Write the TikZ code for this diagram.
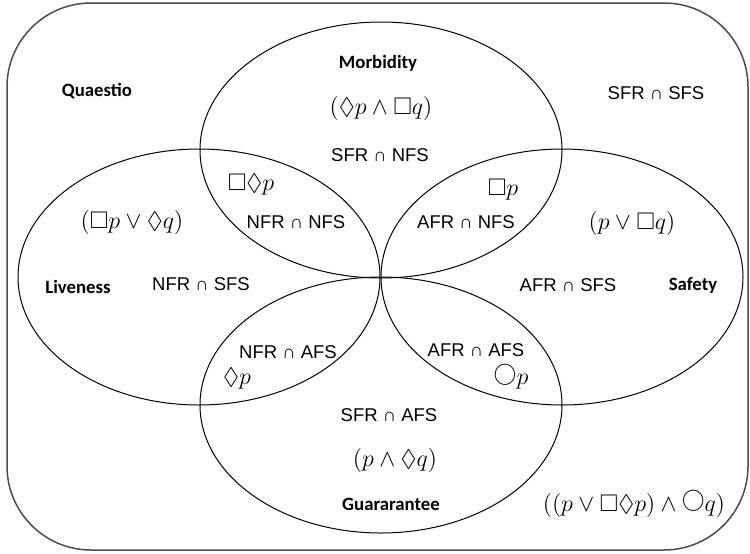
\documentclass[tikz,border=0pt]{standalone}
\usepackage{amssymb}
\usepackage{fontspec}
\setsansfont{Liberation Sans}
\newfontfamily\labelfont{Carlito}
\newcommand{\nextop}{\mathord{\raisebox{0.2em}{\scalebox{0.95}{$\bigcirc$}}}}

\begin{document}
\begin{tikzpicture}[x=0.5pt,y=-0.5pt,
  region/.style={font=\sffamily\fontsize{9.25}{11}\selectfont,inner sep=0pt},
  title/.style={font=\labelfont\bfseries\fontsize{9.4}{11}\selectfont,inner sep=0pt},
  formula/.style={font=\fontsize{12}{14}\selectfont,inner sep=0pt}]
  \useasboundingbox (0,0) rectangle (750,553);
  \draw[gray!60!black,line width=0.75pt,rounded corners=42pt] (7,3) rectangle (748,550);
  \draw[line width=0.5pt] (381,150) ellipse[x radius=181,y radius=128];
  \draw[line width=0.5pt] (199,277) ellipse[x radius=181,y radius=128];
  \draw[line width=0.5pt] (562,277) ellipse[x radius=181,y radius=128];
  \draw[line width=0.5pt] (381,405) ellipse[x radius=181,y radius=128];

  \node[title] (quaestio) at (97,91) {Quaestio};
  \node[title] (morbidity) at (378,63) {Morbidity};
  \node[formula] (morbform) at (381,108) {$(\Diamond p \wedge \Box q)$};
  \node[region] (sfrnfs) at (380,155) {SFR ∩ NFS};
  \node[region] (sfrsfs) at (656,93) {SFR ∩ SFS};

  \node[formula] (nfrnfsform) at (251,185) {$\Box\Diamond p$};
  \node[region] (nfrnfs) at (296,222) {NFR ∩ NFS};
  \node[formula] (afrnfsform) at (503,190) {$\Box p$};
  \node[region] (afrnfs) at (466,222) {AFR ∩ NFS};

  \node[formula] (liveform) at (132,222) {$(\Box p \vee \Diamond q)$};
  \node[formula] (safeform) at (632,223) {$(p \vee \Box q)$};
  \node[title] (liveness) at (78,287) {Liveness};
  \node[region] (nfrsfs) at (201,284) {NFR ∩ SFS};
  \node[region] (afrsfs) at (568,285) {AFR ∩ SFS};
  \node[title] (safety) at (693,285) {Safety};

  \node[region] (nfrafs) at (288,352) {NFR ∩ AFS};
  \node[formula] (nfrafsform) at (237,379) {$\Diamond p$};
  \node[region] (afrafs) at (476,350) {AFR ∩ AFS};
  \node[formula] (afrafsform) at (511,377) {$\nextop p$};

  \node[region] (sfrafs) at (389,415) {SFR ∩ AFS};
  \node[formula] (guarform) at (395,460) {$(p \wedge \Diamond q)$};
  \node[title] (guarantee) at (391,504) {Guararantee};
  \node[formula] (outerform) at (634,504) {$((p \vee \Box\Diamond p) \wedge \nextop q)$};
\end{tikzpicture}
\end{document}
